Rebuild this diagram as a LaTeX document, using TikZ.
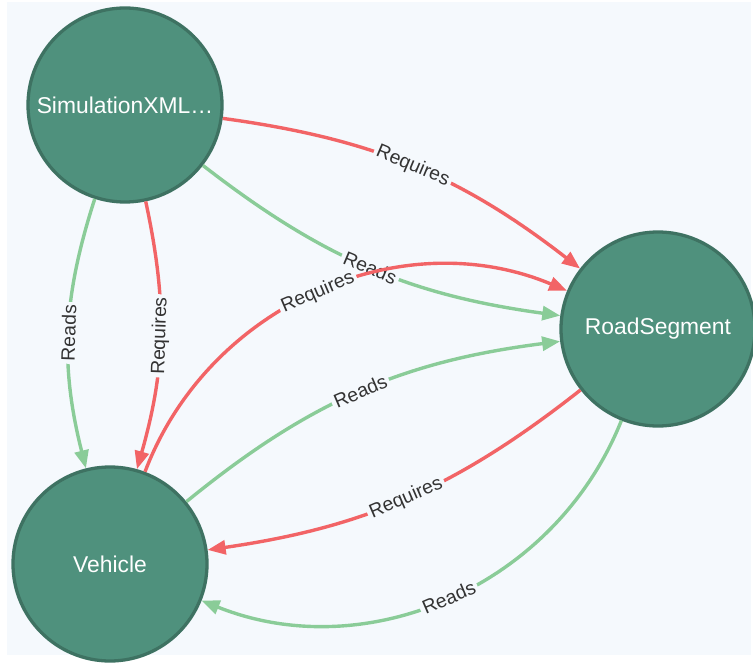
\documentclass[tikz,border=0pt]{standalone}
\usepackage{fontspec}
\setmainfont{Liberation Sans}
\usetikzlibrary{positioning,arrows.meta}
\definecolor{canvasbg}{HTML}{F5F9FD}
\definecolor{nodefill}{HTML}{4F917D}
\definecolor{nodeline}{HTML}{3E7262}
\definecolor{reqred}{HTML}{F26466}
\definecolor{readgreen}{HTML}{8ACC98}
\definecolor{labeltext}{HTML}{333333}

\begin{document}
\begin{tikzpicture}[
    entity/.style={circle, draw=nodeline, fill=nodefill, line width=2.8pt,
      minimum size=5.82cm, inner sep=0pt, text=white,
      font=\fontsize{19.5}{20}\selectfont},
    rel/.style={line width=2.9pt, -{Triangle[length=0.54cm,width=0.42cm]}},
    requires/.style={rel, draw=reqred},
    reads/.style={rel, draw=readgreen},
    tag/.style={midway, sloped, fill=canvasbg, inner sep=2.5pt,
      text=labeltext, font=\fontsize{16.5}{17}\selectfont},
  ]
  \useasboundingbox (0,0) rectangle (22.59,-19.89);
  \fill[canvasbg] (0.21,-0.06) rectangle (22.53,-19.65);

  \node[entity] (sim) at (3.75,-3.15) {SimulationXML…};
  \node[entity, on grid, below right=6.72cm and 15.99cm of sim] (road) {RoadSegment};
  \node[entity, on grid, below left=13.77cm and 0.45cm of sim] (veh) {Vehicle};

  % sim -> road
  \draw[requires] (sim) to[bend left=15] node[tag] {Requires} (road);
  \draw[reads] (sim) to[bend right=15] node[tag] {Reads} (road);
  % sim -> veh
  \draw[reads] (sim) to[bend right=16] node[tag] {Reads} (veh);
  \draw[requires] (sim) to[bend left=14] node[tag] {Requires} (veh);
  % veh -> road
  \draw[requires] (veh) to[bend left=46] node[tag] {Requires} (road);
  \draw[reads] (veh) to[bend left=16] node[tag] {Reads} (road);
  % road -> veh
  \draw[requires] (road) to[bend left=15] node[tag] {Requires} (veh);
  \draw[reads] (road) to[bend left=45] node[tag] {Reads} (veh);
\end{tikzpicture}
\end{document}
